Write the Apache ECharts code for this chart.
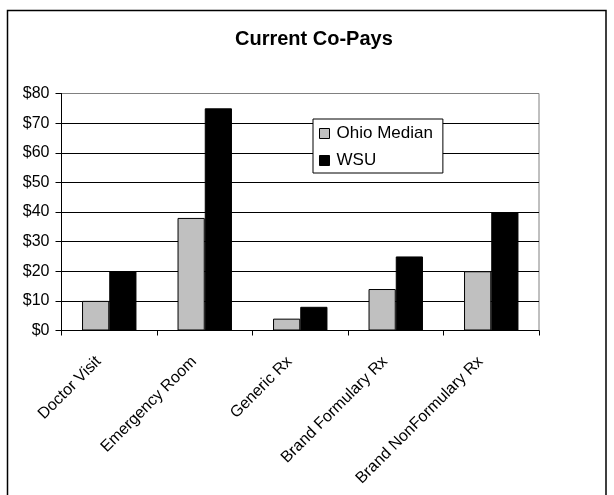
<!DOCTYPE html>
<html>
<head>
<meta charset="utf-8">
<script src="https://cdn.jsdelivr.net/npm/echarts@6/dist/echarts.min.js"></script>
<style>html,body{margin:0;padding:0;background:#fff}#c{width:614px;height:495px}</style>
</head>
<body>
<div id="c"></div>
<script>
var categories = ['Doctor Visit', 'Emergency Room', 'Generic Rx', 'Brand Formulary Rx', 'Brand NonFormulary Rx'];
var ohioMedian = [10, 38, 4, 14, 20];
var wsu = [20, 75, 8, 25, 40];
var seriesNames = ['Ohio Median', 'WSU'];
var titleText = 'Current Co-Pays';

var FONT = '"Liberation Sans", Arial, sans-serif';
var chart = echarts.init(document.getElementById('c'), null, {renderer: 'canvas'});
chart.setOption({
  animation: false,
  backgroundColor: '#fff',
  title: {
    text: titleText, left: 235, top: 29, padding: 0,
    textStyle: {fontFamily: FONT, fontSize: 20, fontWeight: 'bold', color: '#000'}
  },
  graphic: [{
    type: 'rect', shape: {x: 7.5, y: 10.5, width: 598.5, height: 500},
    style: {fill: 'none', stroke: '#000', lineWidth: 1.5}, silent: true, z: 100
  }],
  legend: {
    orient: 'vertical', left: 313, top: 119,
    backgroundColor: '#fff', borderColor: '#000', borderWidth: 1,
    padding: [6, 10, 4, 6], itemGap: 10, itemWidth: 10, itemHeight: 10,
    icon: 'rect',
    itemStyle: {borderColor: '#000', borderWidth: 1},
    textStyle: {fontFamily: FONT, fontSize: 17, color: '#000', padding: [0, 0, 0, 2]},
    data: seriesNames
  },
  grid: {left: 61.5, right: 75, top: 93.5, bottom: 164.5, containLabel: false, show: true, borderColor: '#808080', borderWidth: 1},
  xAxis: {
    type: 'category', data: categories,
    axisLine: {lineStyle: {color: '#000', width: 1}},
    axisTick: {show: true, length: 5, lineStyle: {color: '#000'}},
    axisLabel: {rotate: 45, margin: 18, fontFamily: FONT, fontSize: 16, color: '#000', padding: [0, 15, 0, 0]},
    splitLine: {show: false}
  },
  yAxis: {
    type: 'value', min: 0, max: 80, interval: 10,
    axisLine: {show: true, lineStyle: {color: '#000', width: 1}},
    axisTick: {show: true, length: 6, lineStyle: {color: '#000'}},
    axisLabel: {margin: 12, fontFamily: FONT, fontSize: 16, color: '#000', formatter: function (v) { return '$' + v; }},
    splitLine: {show: true, showMaxLine: false, lineStyle: {color: '#000', width: 1}}
  },
  series: [
    {name: seriesNames[0], type: 'bar', data: ohioMedian, barGap: '0%', barCategoryGap: '43%',
     itemStyle: {color: '#c0c0c0', borderColor: '#000', borderWidth: 1}},
    {name: seriesNames[1], type: 'bar', data: wsu, barGap: '0%', barCategoryGap: '43%',
     itemStyle: {color: '#000', borderColor: '#000', borderWidth: 1}}
  ]
});
</script>
</body>
</html>
